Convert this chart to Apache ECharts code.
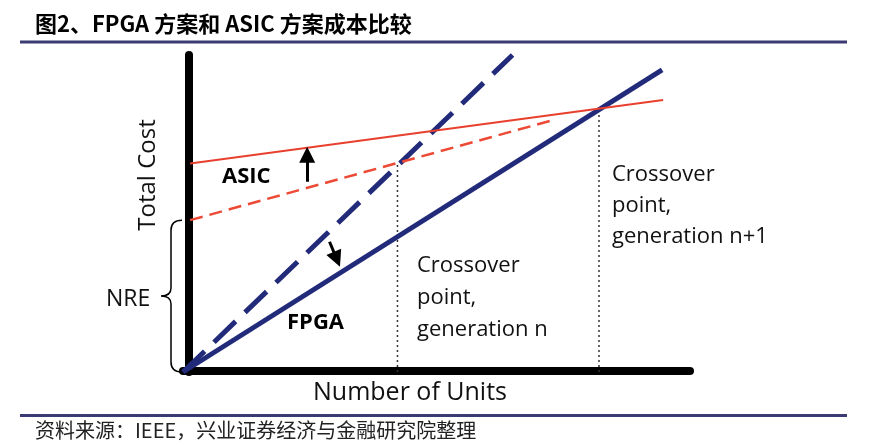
<!DOCTYPE html>
<html>
<head>
<meta charset="utf-8">
<script src="https://cdn.jsdelivr.net/npm/echarts@6/dist/echarts.min.js"></script>
<style>
    html, body { margin: 0; padding: 0; background: #fff; }
    #chart { width: 869px; height: 444px; }
</style>
</head>
<body>
<div id="chart"></div>
<script>
    // 横轴：单位数 0-100，纵轴：总成本 0-100（示意）
    var fpgaNew = [[0, 0], [94.5, 95.3]]          // FPGA 实线
    var fpgaOld = [[0, 0], [65, 100]]             // FPGA 虚线
    var asicNew = [[1.4, 65.8], [94.7, 85.8]]     // ASIC 实线
    var asicOld = [[1.4, 47.9], [72.4, 79.2]]     // ASIC 虚线
    var crossGenN = [[42.3, 0], [42.3, 65.5]]
    var crossGenN1 = [[82.05, 0], [82.05, 83]]
    var arrowUp = [[24.5, 60], [24.5, 68.5]]
    var arrowDown = [[28.9, 41.1], [30.35, 35.55]]
    var nreRange = [0, 47.9]

    var labelFont = '"Open Sans", sans-serif'
    var navy = '#222a7a'

    function lineSeries(data, color, width, type, z) {
        return {
            type: 'line',
            data: data,
            symbol: 'none',
            silent: true,
            clip: false,
            z: z,
            lineStyle: { color: color, width: width, type: type, cap: 'butt' }
        }
    }

    function arrowSeries(data) {
        return {
            type: 'lines',
            coordinateSystem: 'cartesian2d',
            silent: true,
            z: 5,
            symbol: ['none', 'triangle'],
            symbolSize: 16,
            lineStyle: { color: '#000', width: 3, opacity: 1, curveness: 0 },
            data: [{ coords: data }]
        }
    }

    function setAxis() {
        return {
            type: 'value',
            min: 0,
            max: 100,
            axisLine: { show: true, lineStyle: { color: '#000', width: 8 } },
            axisTick: { show: false },
            axisLabel: { show: false },
            splitLine: { show: false }
        }
    }

    // NRE 大括号：上下端取自纵轴换算
    function renderBrace(params, api) {
        var top = api.coord([0, nreRange[1]])
        var bot = api.coord([0, nreRange[0]])
        var mid = (top[1] + bot[1]) / 2
        var r = top[0] - 1, s = top[0] - 12, p = top[0] - 22
        var t = top[1], b = bot[1]
        var d = 'M' + r + ' ' + t + ' Q' + s + ' ' + t + ' ' + s + ' ' + (t + 10) +
            ' L' + s + ' ' + (mid - 8) + ' Q' + s + ' ' + mid + ' ' + p + ' ' + mid +
            ' Q' + s + ' ' + mid + ' ' + s + ' ' + (mid + 8) +
            ' L' + s + ' ' + (b - 10) + ' Q' + s + ' ' + b + ' ' + r + ' ' + b
        return {
            type: 'path',
            shape: { pathData: d },
            style: { fill: 'none', stroke: '#000', lineWidth: 1.5 }
        }
    }

    var chart = echarts.init(document.getElementById('chart'))
    var xAxis = setAxis()
    xAxis.offset = -1
    var yAxis = setAxis()
    yAxis.offset = -6

    chart.setOption({
        animation: false,
        backgroundColor: '#fff',
        grid: { left: 183, right: 179, top: 55, bottom: 72 },
        xAxis: xAxis,
        yAxis: yAxis,
        series: [
            lineSeries(crossGenN, '#333', 1.5, [2, 3], 1),
            lineSeries(crossGenN1, '#333', 1.5, [2, 3], 1),
            lineSeries(fpgaOld, navy, 5, [30, 13], 2),
            lineSeries(fpgaNew, navy, 5, 'solid', 2),
            lineSeries(asicOld, '#ec4a35', 2.5, [13, 7], 3),
            lineSeries(asicNew, '#e8402e', 2, 'solid', 3),
            arrowSeries(arrowUp),
            arrowSeries(arrowDown),
            {
                type: 'custom',
                silent: true,
                clip: false,
                renderItem: renderBrace,
                data: [nreRange]
            }
        ],
        graphic: [
            {
                type: 'text', x: 35, y: 24,
                style: { text: '图2、FPGA 方案和 ASIC 方案成本比较', font: 'bold 22px "Noto Sans CJK SC"', fill: '#000', verticalAlign: 'middle' }
            },
            { type: 'rect', shape: { x: 20, y: 40.5, width: 827, height: 3 }, style: { fill: '#3b3a72' } },
            { type: 'rect', shape: { x: 20, y: 414, width: 827, height: 3 }, style: { fill: '#3b3a72' } },
            {
                type: 'text', x: 35, y: 430,
                style: { text: '资料来源：IEEE，兴业证券经济与金融研究院整理', font: '20px "Noto Sans CJK SC"', fill: '#222', verticalAlign: 'middle' }
            },
            {
                type: 'text', x: 148, y: 175, rotation: Math.PI / 2,
                style: { text: 'Total Cost', font: '24px ' + labelFont, fill: '#111', align: 'center', verticalAlign: 'middle' }
            },
            {
                type: 'text', x: 222, y: 177,
                style: { text: 'ASIC', font: 'bold 22px ' + labelFont, fill: '#000', verticalAlign: 'middle' }
            },
            {
                type: 'text', x: 287, y: 323,
                style: { text: 'FPGA', font: 'bold 22px ' + labelFont, fill: '#000', verticalAlign: 'middle' }
            },
            {
                type: 'text', x: 106, y: 299,
                style: { text: 'NRE', font: '23px ' + labelFont, fill: '#111', verticalAlign: 'middle' }
            },
            {
                type: 'text', x: 313, y: 393,
                style: { text: 'Number of Units', font: '25px ' + labelFont, fill: '#111', verticalAlign: 'middle' }
            },
            {
                type: 'text', x: 417, y: 250,
                style: { text: 'Crossover\npoint,\ngeneration n', font: '22px ' + labelFont, lineHeight: 32, fill: '#111', verticalAlign: 'top' }
            },
            {
                type: 'text', x: 612, y: 159,
                style: { text: 'Crossover\npoint,\ngeneration n+1', font: '22px ' + labelFont, lineHeight: 31, fill: '#111', verticalAlign: 'top' }
            }
        ]
    })
</script>
</body>
</html>
